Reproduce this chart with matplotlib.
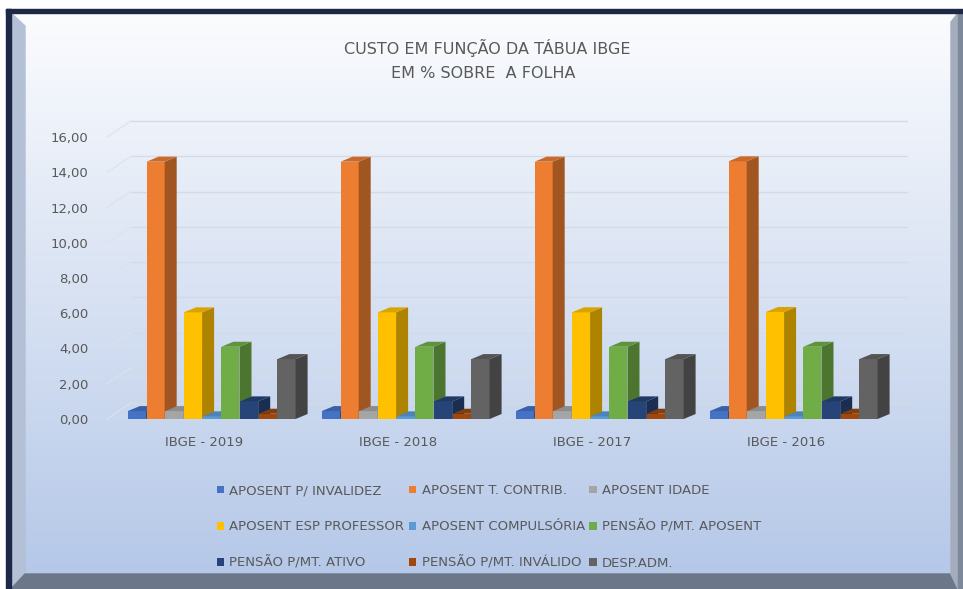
import numpy as np
import matplotlib.pyplot as plt
from matplotlib.patches import Polygon, Rectangle
from matplotlib.colors import to_rgb

categories = ["IBGE - 2019", "IBGE - 2018", "IBGE - 2017", "IBGE - 2016"]
series_names = ["APOSENT P/ INVALIDEZ", "APOSENT T. CONTRIB.", "APOSENT IDADE",
                "APOSENT ESP PROFESSOR", "APOSENT COMPULSÓRIA", "PENSÃO P/MT. APOSENT",
                "PENSÃO P/MT. ATIVO", "PENSÃO P/MT. INVÁLIDO", "DESP.ADM."]

aposent_invalidez = [0.45, 0.45, 0.45, 0.45]
aposent_contrib = [14.60, 14.60, 14.60, 14.62]
aposent_idade = [0.45, 0.45, 0.45, 0.45]
aposent_professor = [6.05, 6.05, 6.05, 6.07]
aposent_compulsoria = [0.15, 0.15, 0.15, 0.15]
pensao_aposent = [4.10, 4.10, 4.10, 4.10]
pensao_ativo = [1.00, 1.00, 1.00, 1.00]
pensao_invalido = [0.30, 0.30, 0.30, 0.30]
desp_adm = [3.40, 3.40, 3.40, 3.40]

values = [aposent_invalidez, aposent_contrib, aposent_idade, aposent_professor,
          aposent_compulsoria, pensao_aposent, pensao_ativo, pensao_invalido, desp_adm]
colors = ["#4472C4", "#ED7D31", "#A5A5A5", "#FFC000", "#5B9BD5",
          "#70AD47", "#264478", "#9E480E", "#636363"]

FONT = ["Liberation Sans Narrow", "DejaVu Sans"]
TXT = "#595959"

W, H = 963, 589
fig = plt.figure(figsize=(W / 100, H / 100), dpi=100)
fig.patch.set_facecolor("white")

# background panel with frame (pixel coords)
bg = fig.add_axes([0, 0, 1, 1], zorder=0)
bg.set_xlim(0, W)
bg.set_ylim(H, 0)
bg.axis("off")
top_c = np.array(to_rgb("#fbfcfe"))
bot_c = np.array(to_rgb("#b5c8e8"))
t = np.linspace(0, 1, 256)[:, None]
grad = (top_c * (1 - t) + bot_c * t)[:, None, :]
bg.imshow(grad, extent=(11, 958, 575, 13), aspect="auto", zorder=0)
bg.add_patch(Rectangle((6, 9), W - 6, 4, color="#1c2846", zorder=2))
bg.add_patch(Rectangle((6, 9), 5, 580, color="#1c2846", zorder=2))
bg.add_patch(Polygon([(11, 13), (25, 26), (25, 575), (11, 589)], color="#b3c0d5", zorder=1))
bg.add_patch(Polygon([(11, 589), (25, 574), (950, 574), (958, 589)], color="#6c7789", zorder=1))
bg.add_patch(Polygon([(958, 13), (951, 22), (951, 574), (958, 589)], color="#a3adbd", zorder=1))
bg.add_patch(Rectangle((958, 13), 5, 576, color="#7d889a", zorder=1))

# main axes
ax_left, ax_right = 115, 891
ax_bottom, ax_top = 419, 137
ax = fig.add_axes([ax_left / W, (H - ax_bottom) / H, (ax_right - ax_left) / W,
                   (ax_bottom - ax_top) / H], zorder=2)
ax.patch.set_alpha(0)
ax.set_xlim(-0.5, len(categories) - 0.5)
ax.set_ylim(0, 16)
for s in ax.spines.values():
    s.set_visible(False)

px_x = (ax_right - ax_left) / len(categories)
px_y = (ax_bottom - ax_top) / 16.0

# back wall gridlines and side wall lines
gdx, gdy = 16 / px_x, 16 / px_y
yticks = np.arange(0, 17, 2)
for v in yticks:
    ax.plot([-0.5 + gdx, 3.5 + gdx], [v + gdy, v + gdy], color="#d5dbe5", lw=1.0,
            zorder=1, clip_on=False)
    ax.plot([-0.5 - 8 / px_x, -0.5 + gdx], [v, v + gdy], color="#dde2ea", lw=0.8,
            zorder=1, clip_on=False)

# 3D-looking columns
n = len(values)
slot = 0.0964
bw = slot * 0.97
dx, dy = 12 / px_x, 5 / px_y
x = np.arange(len(categories))
for i, (vals, c) in enumerate(zip(values, colors)):
    left = x - n * slot / 2 + i * slot
    base = np.array(to_rgb(c))
    ax.bar(left, vals, width=bw, align="edge", color=c, zorder=3 + i * 3,
           label=series_names[i], linewidth=0)
    for xl, h in zip(left, vals):
        side = [(xl + bw, 0), (xl + bw, h), (xl + bw + dx, h + dy), (xl + bw + dx, dy)]
        top = [(xl, h), (xl + bw, h), (xl + bw + dx, h + dy), (xl + dx, h + dy)]
        ax.add_patch(Polygon(side, closed=True, color=base * 0.68, zorder=4 + i * 3,
                             clip_on=False, lw=0))
        ax.add_patch(Polygon(top, closed=True, color=base * 0.85, zorder=5 + i * 3,
                             clip_on=False, lw=0))

ax.set_yticks(yticks)
ax.set_yticklabels([f"{v:.2f}".replace(".", ",") for v in yticks])
ax.set_xticks(x - 0.04)
ax.set_xticklabels(categories)
ax.tick_params(axis="y", length=0, pad=19, labelsize=9.5, labelcolor=TXT)
ax.tick_params(axis="x", length=0, pad=12, labelsize=9.5, labelcolor=TXT)
for lab in ax.get_xticklabels() + ax.get_yticklabels():
    lab.set_family(FONT)

fig.text(487 / W, 1 - 48 / H, "CUSTO EM FUNÇÃO DA TÁBUA IBGE", ha="center", va="center",
         fontsize=11.5, color=TXT, family=FONT)
fig.text(483 / W, 1 - 73 / H, "EM % SOBRE  A FOLHA", ha="center", va="center",
         fontsize=11.5, color=TXT, family=FONT)

# legend: fill row by row (matplotlib fills columns first)
handles, labels = ax.get_legend_handles_labels()
order = [0, 3, 6, 1, 4, 7, 2, 5, 8]
leg = fig.legend([handles[k] for k in order], [labels[k] for k in order], ncol=3,
                 loc="center", bbox_to_anchor=(489 / W, 1 - 527 / H), frameon=False,
                 prop={"family": FONT, "size": 9.5}, labelcolor=TXT,
                 handlelength=0.55, handleheight=0.55, handletextpad=0.4,
                 columnspacing=0.35, labelspacing=1.75)

fig.savefig("out.png", dpi=100)
